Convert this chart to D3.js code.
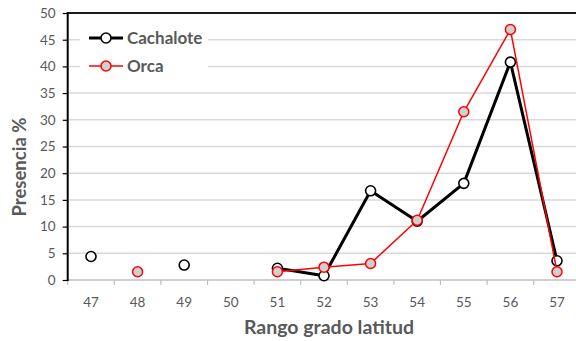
<!DOCTYPE html>
<html><head><meta charset="utf-8">
<script src="https://cdn.jsdelivr.net/npm/d3@7"></script>
<style>body{margin:0;background:#fff}svg{display:block}text{font-family:Lato,"Open Sans",sans-serif}</style>
</head><body>
<script>
const categories = ["47","48","49","50","51","52","53","54","55","56","57"];
const cachalote = [4.4, null, 2.8, null, 2.2, 0.8, 16.7, 11.0, 18.1, 40.8, 3.6];
const orca = [null, 1.55, null, null, 1.55, 2.4, 3.1, 11.2, 31.5, 46.9, 1.55];
const yTicks = [0,5,10,15,20,25,30,35,40,45,50];
const seriesNames = ["Cachalote","Orca"];

(function(){
const W=576,H=341;
const svg=d3.select("body").append("svg").attr("width",W).attr("height",H);
const pLeft=67.7, pTop=13, pBottom=280;
const x=d3.scaleBand().domain(categories).range([pLeft,pLeft+11*46.6]);
const y=d3.scaleLinear().domain([0,50]).range([pBottom,pTop]);
const xc=c=>x(c)+x.bandwidth()/2;

// gridlines
svg.append("g").selectAll("line").data(yTicks.filter(d=>d>0&&d<50)).join("line")
 .attr("x1",pLeft).attr("x2",W).attr("y1",d=>y(d)).attr("y2",d=>y(d))
 .attr("stroke","#d9d9d9").attr("stroke-width",1.5);
// top border
svg.append("line").attr("x1",pLeft).attr("x2",W).attr("y1",y(50)).attr("y2",y(50)).attr("stroke","#1a1a1a").attr("stroke-width",2);

// x axis
const xAxis=svg.append("g").attr("transform",`translate(0,${pBottom})`);
xAxis.append("line").attr("x1",pLeft).attr("x2",W).attr("stroke","#bfbfbf").attr("stroke-width",1.5);
xAxis.selectAll("line.t").data(categories).join("line").attr("class","t")
 .attr("x1",d=>x(d)).attr("x2",d=>x(d)).attr("y1",0).attr("y2",5).attr("stroke","#bfbfbf").attr("stroke-width",1.2);
xAxis.selectAll("text").data(categories).join("text")
 .attr("x",d=>xc(d)).attr("y",27).attr("text-anchor","middle").attr("font-size",13.5).attr("fill","#595959").text(d=>d);

// y axis
const yAxis=svg.append("g").call(d3.axisLeft(y).tickValues(yTicks).tickSize(5).tickPadding(7))
 .attr("transform",`translate(${pLeft},0)`);
yAxis.select(".domain").attr("stroke","#000").attr("stroke-width",2).attr("d",`M0,${pTop-1}V${pBottom+1}`);
yAxis.selectAll(".tick line").attr("stroke","#000").attr("stroke-width",1.2);
yAxis.selectAll(".tick text").attr("font-size",13.5).attr("fill","#595959").attr("font-family","Lato, sans-serif");

// axis titles
svg.append("text").attr("transform","translate(25.5,167) rotate(-90)").attr("text-anchor","middle")
 .attr("font-size",18.5).attr("font-weight","bold").attr("fill","#595959").text("Presencia %");
svg.append("text").attr("x",329).attr("y",334).attr("text-anchor","middle")
 .attr("font-size",19.5).attr("font-weight","bold").attr("fill","#595959").text("Rango grado latitud");

// legend box
svg.append("rect").attr("x",80).attr("y",25).attr("width",128).attr("height",56).attr("fill","#fff");

const styles=[{data:cachalote,stroke:"#000",lw:3,fill:"#fff",ms:1.6},{data:orca,stroke:"#ff0000",lw:1.5,fill:"#d0d0d0",ms:1.5}];
const line=d3.line().defined(d=>d.v!=null).x(d=>xc(d.c)).y(d=>y(d.v));
styles.forEach(s=>{
  const pts=categories.map((c,i)=>({c,v:s.data[i]}));
  svg.append("path").datum(pts).attr("d",line).attr("fill","none").attr("stroke",s.stroke).attr("stroke-width",s.lw).attr("stroke-linejoin","round");
  svg.append("g").selectAll("circle").data(pts.filter(d=>d.v!=null)).join("circle")
   .attr("cx",d=>xc(d.c)).attr("cy",d=>y(d.v)).attr("r",5).attr("fill",s.fill).attr("stroke",s.stroke).attr("stroke-width",s.ms);
});

// legend
seriesNames.forEach((n,i)=>{
  const s=styles[i], ly=38+i*28;
  svg.append("line").attr("x1",89).attr("x2",123).attr("y1",ly).attr("y2",ly).attr("stroke",s.stroke).attr("stroke-width",s.lw);
  svg.append("circle").attr("cx",106).attr("cy",ly).attr("r",5).attr("fill",s.fill).attr("stroke",s.stroke).attr("stroke-width",s.ms);
  svg.append("text").attr("x",127).attr("y",ly+6).attr("font-size",17).attr("font-weight","bold").attr("fill","#595959").text(n);
});
})();
</script>
</body></html>
